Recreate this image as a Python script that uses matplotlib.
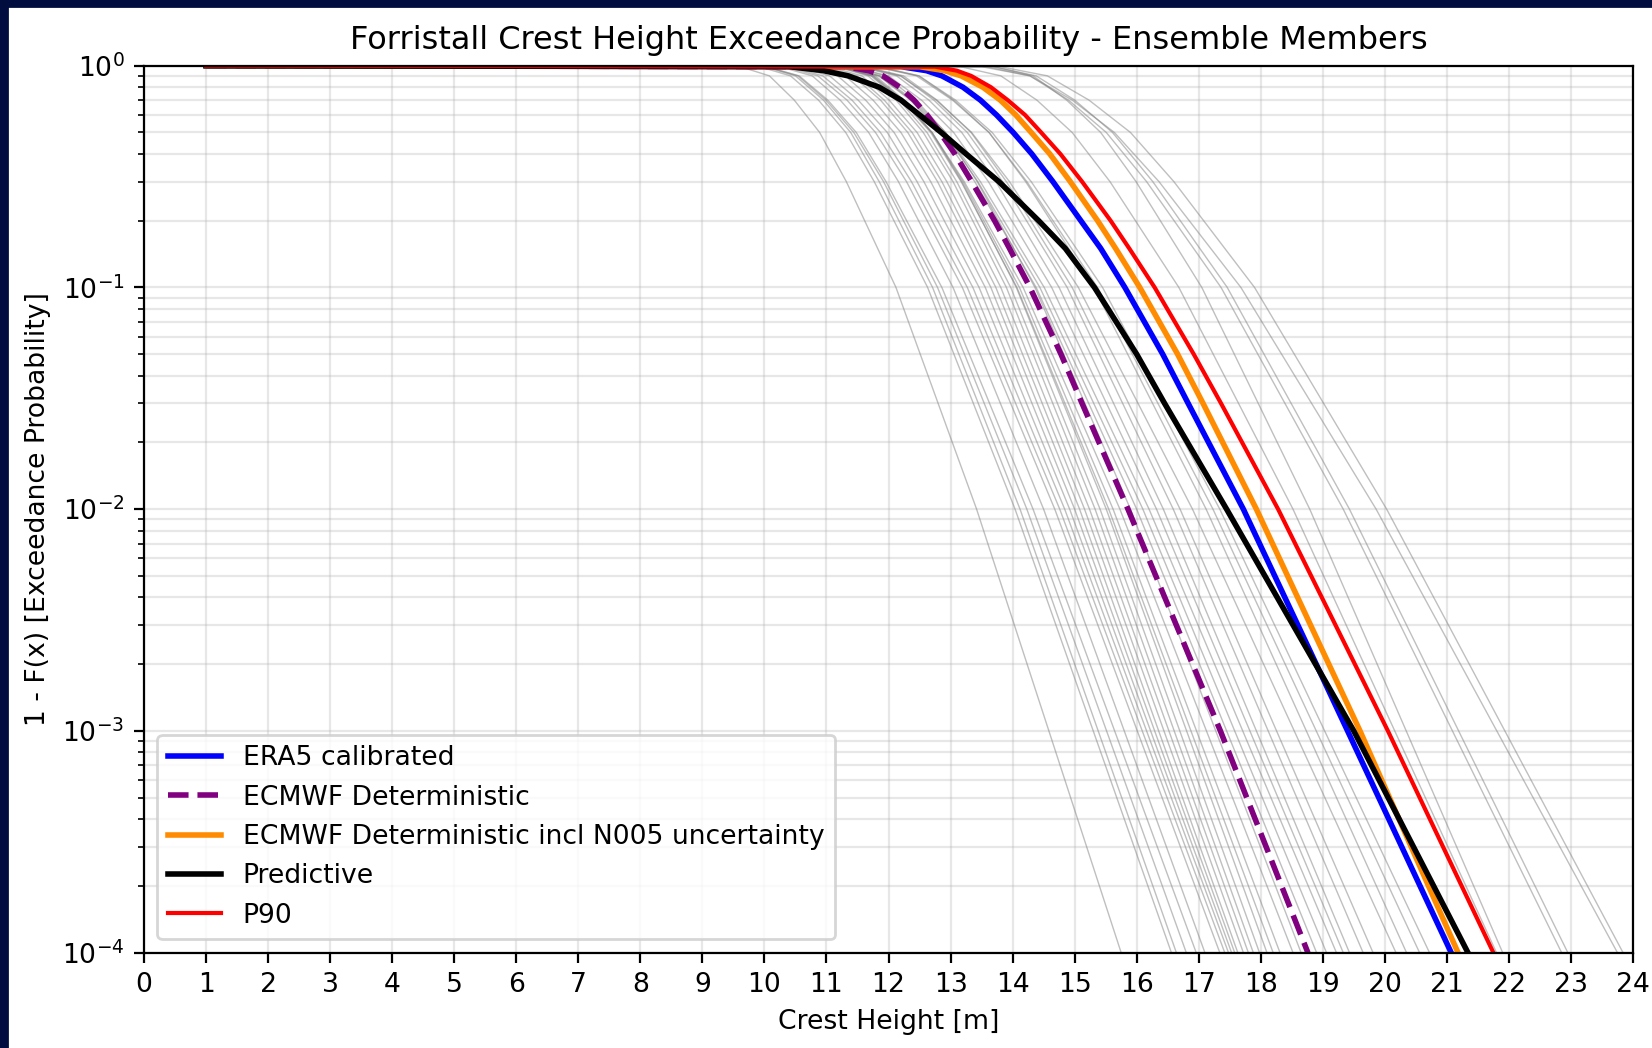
import numpy as np
import matplotlib.pyplot as plt
from matplotlib.patches import Rectangle

plt.rcParams['font.size'] = 9.6

levels_main = [1.0, 0.99, 0.95, 0.9, 0.8, 0.7, 0.6, 0.5, 0.4, 0.3, 0.2, 0.15, 0.1,
               0.05, 0.03, 1e-2, 1e-3, 1e-4]
era5 = [1.0, 12.2, 12.61, 12.86, 13.2, 13.48, 13.74, 14.01, 14.31, 14.65, 15.1, 15.42, 15.81,
        16.42, 16.83, 17.72, 19.4, 21.07]
ecmwf_det = [1.0, 11.3, 11.68, 11.91, 12.18, 12.41, 12.62, 12.83, 13.07, 13.34, 13.71, 13.95, 14.28,
             14.78, 15.12, 15.86, 17.35, 18.76]
ecmwf_n005 = [1.0, 12.5, 12.9, 13.17, 13.52, 13.8, 14.05, 14.3, 14.6, 14.93, 15.37, 15.66, 16.05,
              16.66, 17.07, 17.93, 19.6, 21.18]
predictive = [1.0, 10.4, 10.95, 11.35, 11.85, 12.2, 12.5, 12.85, 13.25, 13.78, 14.42, 14.85, 15.32,
              16.0, 16.45, 17.45, 19.5, 21.34]
p90 = [1.0, 12.75, 13.1, 13.33, 13.65, 13.92, 14.2, 14.46, 14.77, 15.12, 15.58, 15.88, 16.29,
       16.92, 17.36, 18.28, 20.05, 21.75]

# ensemble members
levels_ens = [1.0, 0.99, 0.9, 0.7, 0.5, 0.3, 0.1, 1e-2, 1e-4]
members = [
    [1.0, 9.61, 10.08, 10.48, 10.89, 11.32, 12.12, 13.42, 15.75],
    [1.0, 9.92, 10.42, 10.87, 11.31, 11.77, 12.63, 14.04, 16.56],
    [1.0, 10.00, 10.50, 10.95, 11.39, 11.85, 12.71, 14.12, 16.64],
    [1.0, 10.03, 10.54, 10.99, 11.44, 11.92, 12.79, 14.23, 16.80],
    [1.0, 10.03, 10.56, 11.02, 11.48, 11.96, 12.86, 14.33, 16.96],
    [1.0, 10.25, 10.77, 11.22, 11.68, 12.16, 13.04, 14.5, 17.1],
    [1.0, 10.33, 10.86, 11.33, 11.79, 12.29, 13.19, 14.68, 17.34],
    [1.0, 10.41, 10.94, 11.41, 11.87, 12.37, 13.27, 14.76, 17.42],
    [1.0, 10.52, 11.05, 11.51, 11.98, 12.46, 13.36, 14.84, 17.48],
    [1.0, 10.65, 11.18, 11.63, 12.09, 12.57, 13.46, 14.92, 17.53],
    [1.0, 10.78, 11.30, 11.75, 12.20, 12.68, 13.56, 15.0, 17.58],
    [1.0, 10.91, 11.42, 11.87, 12.31, 12.79, 13.65, 15.08, 17.63],
    [1.0, 10.97, 11.49, 11.93, 12.38, 12.86, 13.73, 15.16, 17.72],
    [1.0, 11.05, 11.57, 12.01, 12.46, 12.94, 13.81, 15.24, 17.80],
    [1.0, 11.16, 11.67, 12.12, 12.56, 13.04, 13.90, 15.33, 17.88],
    [1.0, 11.21, 11.72, 12.17, 12.62, 13.10, 13.97, 15.41, 17.98],
    [1.0, 11.28, 11.79, 12.25, 12.70, 13.18, 14.06, 15.51, 18.1],
    [1.0, 11.22, 11.75, 12.21, 12.68, 13.17, 14.07, 15.55, 18.2],
    [1.0, 11.22, 11.76, 12.23, 12.70, 13.20, 14.11, 15.62, 18.31],
    [1.0, 11.17, 11.73, 12.21, 12.70, 13.22, 14.17, 15.73, 18.52],
    [1.0, 11.40, 11.95, 12.44, 12.92, 13.43, 14.36, 15.9, 18.65],
    [1.0, 11.26, 11.84, 12.35, 12.85, 13.39, 14.38, 16.0, 18.9],
    [1.0, 11.26, 11.85, 12.37, 12.89, 13.44, 14.44, 16.1, 19.06],
    [1.0, 11.26, 11.87, 12.40, 12.92, 13.48, 14.51, 16.2, 19.22],
    [1.0, 11.40, 12.00, 12.53, 13.05, 13.61, 14.63, 16.32, 19.33],
    [1.0, 11.53, 12.13, 12.65, 13.18, 13.73, 14.75, 16.43, 19.43],
    [1.0, 11.59, 12.20, 12.73, 13.27, 13.84, 14.88, 16.59, 19.65],
    [1.0, 11.62, 12.24, 12.78, 13.33, 13.90, 14.96, 16.70, 19.81],
    [1.0, 11.54, 12.19, 12.77, 13.34, 13.95, 15.06, 16.9, 20.18],
    [1.0, 11.84, 12.49, 13.05, 13.62, 14.21, 15.31, 17.12, 20.35],
    [1.0, 11.79, 12.45, 13.03, 13.62, 14.23, 15.37, 17.23, 20.56],
    [1.0, 11.81, 12.49, 13.08, 13.67, 14.30, 15.45, 17.34, 20.72],
    [1.0, 13.16, 13.81, 14.39, 14.96, 15.57, 16.68, 18.52, 21.8],
    [1.0, 13.71, 14.33, 14.87, 15.42, 15.99, 17.05, 18.79, 21.9],
    [1.0, 13.58, 14.28, 14.90, 15.51, 16.16, 17.36, 19.33, 22.85],
    [1.0, 13.68, 14.38, 15.00, 15.61, 16.26, 17.46, 19.43, 22.95],
    [1.0, 13.50, 14.28, 14.96, 15.64, 16.36, 17.68, 19.86, 23.75],
    [1.0, 13.80, 14.56, 15.23, 15.90, 16.60, 17.90, 20.03, 23.84],
]

fig = plt.figure(figsize=(8.26, 5.24), dpi=200)
ax = fig.add_subplot(111)
fig.subplots_adjust(left=0.0872, right=0.9885, top=0.9373, bottom=0.0909)

for m in members:
    ax.plot(m, levels_ens, color='gray', linewidth=0.5, alpha=0.5)

ax.plot(era5, levels_main, color='blue', linewidth=2, label='ERA5 calibrated')
ax.plot(ecmwf_det, levels_main, color='purple', linewidth=2, linestyle='--', label='ECMWF Deterministic')
ax.plot(ecmwf_n005, levels_main, color='darkorange', linewidth=2, label='ECMWF Deterministic incl N005 uncertainty')
ax.plot(predictive, levels_main, color='black', linewidth=2, label='Predictive')
ax.plot(p90, levels_main, color='red', linewidth=1.5, label='P90')

ax.set_yscale('log')
ax.set_ylim(1e-4, 1)
ax.set_xlim(0, 24)
ax.set_xticks(range(0, 25))
ax.grid(True, which='both', alpha=0.3)
ax.set_xlabel('Crest Height [m]')
ax.set_ylabel('1 - F(x) [Exceedance Probability]')
ax.set_title('Forristall Crest Height Exceedance Probability - Ensemble Members')
ax.legend(loc='lower left')

# dark frame strips of the screenshot
fig.patches.append(Rectangle((0, 0), 7 / 1652, 1, transform=fig.transFigure, color='#020d3f', zorder=10))
fig.patches.append(Rectangle((0, 1 - 6 / 1048), 1, 6 / 1048, transform=fig.transFigure, color='#020d3f', zorder=10))

fig.savefig('out.png', dpi=200)
